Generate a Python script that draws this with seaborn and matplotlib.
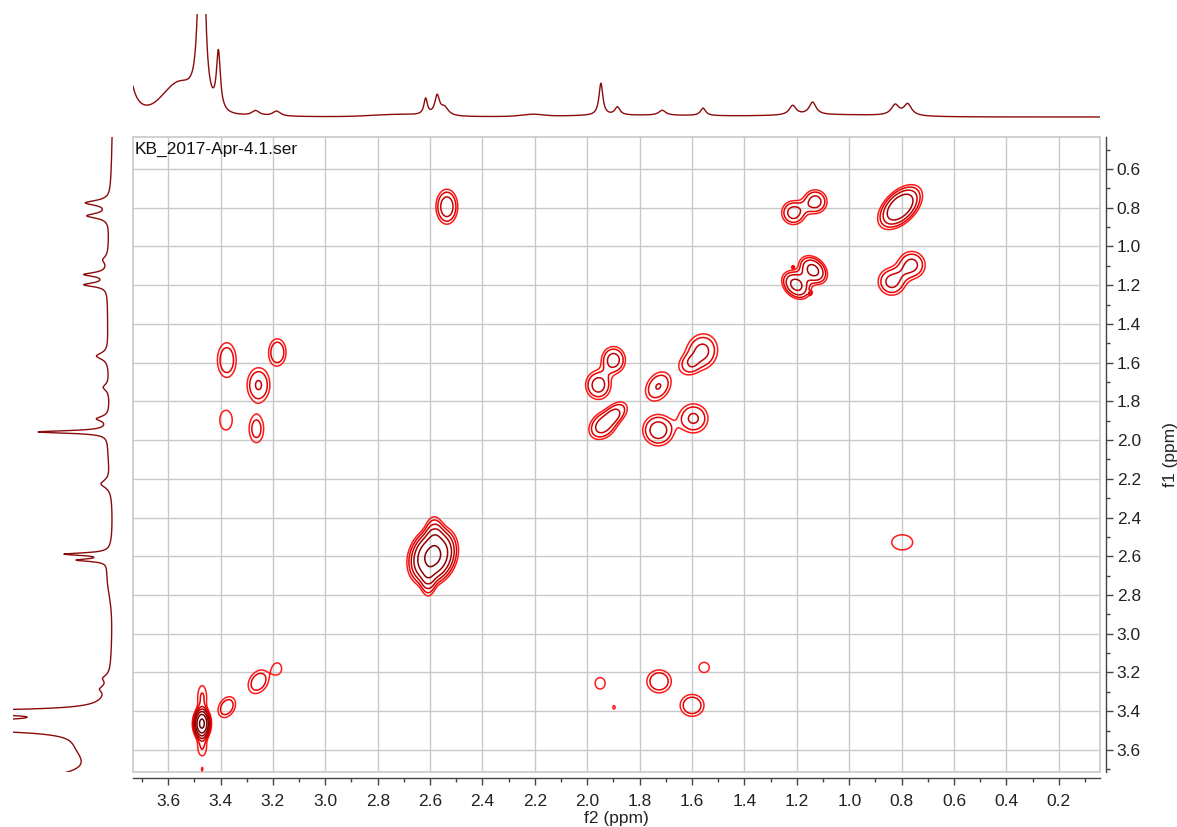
import numpy as np
import matplotlib
matplotlib.use("Agg")
import matplotlib.pyplot as plt
from matplotlib.patches import Rectangle
from matplotlib.ticker import MultipleLocator, FormatStrFormatter
import seaborn as sns

# ---------------------------------------------------------------------------
# COSY cross peaks: f2 shift, f1 shift, amplitude, widths (ppm), correlation
# ---------------------------------------------------------------------------
xp_f2 = [2.536, 1.213, 1.130, 0.806, 1.203, 1.138, 1.215, 1.150, 0.838, 0.762,
         3.376, 3.183, 3.255, 3.379, 3.263,
         1.900, 1.958, 1.729, 1.563, 1.620, 1.939, 1.882, 1.729, 1.595,
         2.590, 2.585, 2.607, 0.798,
         3.471, 3.470, 3.470, 3.470, 3.376, 3.255, 3.183,
         1.951, 1.898, 1.726, 1.600, 1.554]
xp_f1 = [0.795, 0.826, 0.769, 0.797, 1.199, 1.122, 1.106, 1.240, 1.182, 1.096,
         1.587, 1.547, 1.716, 1.897, 1.942,
         1.587, 1.716, 1.723, 1.544, 1.620, 1.923, 1.850, 1.949, 1.888,
         2.600, 2.450, 2.750, 2.528,
         3.465, 3.330, 3.585, 3.700, 3.379, 3.248, 3.180,
         3.256, 3.380, 3.246, 3.370, 3.174]
xp_amp = [2.6, 2.4, 2.4, 4.2, 3.3, 3.3, 1.08, 1.08, 2.3, 2.3,
          1.9, 2.0, 2.15, 1.3, 1.7,
          2.4, 2.4, 2.12, 2.3, 1.25, 2.5, 1.7, 2.5, 2.2,
          7.0, 1.3, 1.3, 1.3,
          9.5, 1.5, 1.45, 1.1, 1.9, 1.9, 1.3,
          1.25, 1.1, 2.0, 2.0, 1.3]
xp_s2 = [0.030, 0.0336, 0.0336, 0.0527, 0.0363, 0.0363, 0.004, 0.006, 0.0393, 0.0393,
         0.030, 0.027, 0.034, 0.028, 0.025,
         0.034, 0.036, 0.0385, 0.046, 0.030, 0.040, 0.0305, 0.0436, 0.043,
         0.054, 0.023, 0.019, 0.047,
         0.019, 0.017, 0.017, 0.004, 0.028, 0.033, 0.019,
         0.024, 0.0076, 0.038, 0.037, 0.023]
xp_s1 = [0.065, 0.0455, 0.0455, 0.0713, 0.049, 0.049, 0.006, 0.008, 0.053, 0.053,
         0.075, 0.057, 0.070, 0.060, 0.064,
         0.052, 0.055, 0.059, 0.070, 0.041, 0.054, 0.041, 0.059, 0.058,
         0.088, 0.052, 0.052, 0.046,
         0.045, 0.062, 0.047, 0.015, 0.045, 0.051, 0.034,
         0.037, 0.0155, 0.048, 0.046, 0.031]
xp_rho = [0.0, 0.0, 0.0, 0.50, -0.3, -0.3, 0.0, 0.0, 0.0, 0.0,
          0.0, 0.0, 0.0, 0.0, 0.0,
          0.0, 0.0, 0.3, 0.1, 0.0, 0.3, 0.3, 0.0, 0.0,
          0.2, 0.0, 0.0, 0.0,
          0.0, 0.0, 0.0, 0.0, 0.3, 0.3, 0.0,
          0.0, 0.0, 0.0, 0.0, 0.0]

contour_levels = [1.0, 1.45, 2.1, 3.0, 4.4, 6.4, 9.0]
contour_colors = ["#ff1a1a", "#e60000", "#c40000", "#a80000", "#900000",
                  "#7c0000", "#6a0000"]

# ---------------------------------------------------------------------------
# 1D projections: sharp lines (ppm, height, half width) and broad humps
# ---------------------------------------------------------------------------
top_ppm = [3.780, 3.472, 3.408, 3.266, 3.186, 2.617, 2.573, 2.545, 1.948,
           1.885, 1.714, 1.558, 1.216, 1.140, 0.825, 0.777]
top_height = [257, 400, 58, 5, 5, 16, 19, 8, 32, 8, 5, 7.5, 9.5, 12.5, 10.5, 11.5]
top_width = [0.0167, 0.009, 0.009, 0.018, 0.018, 0.008, 0.011, 0.018, 0.009,
             0.012, 0.016, 0.012, 0.016, 0.016, 0.018, 0.018]
top_hump_ppm = [3.56, 2.72, 2.21, 1.80, 1.05]
top_hump_height = [30, 2.3, 2.0, 1.6, 2.0]
top_hump_width = [0.06, 0.10, 0.04, 0.30, 0.20]

left_ppm = [0.775, 0.842, 1.069, 1.145, 1.198, 1.566, 1.728, 1.890, 1.958,
            2.226, 2.589, 2.620, 3.230, 3.285, 3.405, 3.475, 3.800]
left_height = [24, 22, 5, 23, 23, 12, 6, 12, 70, 10, 44, 30, 6, 7, 250, 700, 225]
left_width = [0.015, 0.015, 0.02, 0.012, 0.012, 0.02, 0.02, 0.015, 0.008,
              0.025, 0.008, 0.008, 0.02, 0.02, 0.010, 0.012, 0.040]
left_hump_ppm = [1.30, 2.05, 2.70, 3.58]
left_hump_height = [5, 3, 5, 22]
left_hump_width = [0.45, 0.12, 0.10, 0.07]

file_label = "KB_2017-Apr-4.1.ser"
f2_range = (3.734, 0.043)
f1_range = (3.714, 0.435)


def spectrum(ppm, centers, heights, widths, hump_c, hump_h, hump_w):
    y = np.zeros_like(ppm)
    for c, h, w in zip(centers, heights, widths):
        y += h / (1.0 + ((ppm - c) / w) ** 2)
    for c, h, w in zip(hump_c, hump_h, hump_w):
        y += h * np.exp(-0.5 * ((ppm - c) / w) ** 2)
    return y


sns.set_theme(style="white")
plt.rcParams["font.family"] = ["Liberation Sans", "DejaVu Sans"]

W, H = 1177, 827
fig = plt.figure(figsize=(W / 100, H / 100), dpi=100)


def px_axes(left, top, right, bottom):
    return fig.add_axes([left / W, 1 - bottom / H, (right - left) / W,
                         (bottom - top) / H])


ax = px_axes(133, 137, 1100, 772)
ax_top = px_axes(133, 14, 1100, 125)
ax_left = px_axes(13, 137, 128, 772)

# --- 2D contour map (slightly flat-topped peak shape) -------------------------
f2g = np.linspace(0.03, 3.75, 1700)
f1g = np.linspace(0.42, 3.73, 1500)
X, Y = np.meshgrid(f2g, f1g)
Z = np.zeros_like(X)
for c2, c1, a, s2, s1, r in zip(xp_f2, xp_f1, xp_amp, xp_s2, xp_s1, xp_rho):
    u = (X - c2) / s2
    v = (Y - c1) / s1
    q = (u * u - 2 * r * u * v + v * v) / (1 - r * r)
    Z += a * np.exp(-(0.5 * q) ** 1.3)

ax.contour(X, Y, Z, levels=contour_levels, colors=contour_colors,
           linewidths=1.1, zorder=3)

ax.set_xlim(*f2_range)
ax.set_ylim(*f1_range)
grid_col = "#c8c8c8"
ax.set_axisbelow(True)
ax.grid(True, which="major", color=grid_col, lw=1.0)
ax.xaxis.set_major_locator(MultipleLocator(0.2))
ax.xaxis.set_minor_locator(MultipleLocator(0.1))
ax.yaxis.set_major_locator(MultipleLocator(0.2))
ax.yaxis.set_minor_locator(MultipleLocator(0.1))
ax.xaxis.set_major_formatter(FormatStrFormatter("%.1f"))
ax.yaxis.set_major_formatter(FormatStrFormatter("%.1f"))
ax.yaxis.tick_right()
ax.yaxis.set_label_position("right")
for side in ("top", "left"):
    ax.spines[side].set_visible(False)
for side in ("bottom", "right"):
    ax.spines[side].set_position(("outward", 4))
    ax.spines[side].set_color("#444444")
    ax.spines[side].set_linewidth(1.0)
ax.add_patch(Rectangle((0, 0), 1, 1, transform=ax.transAxes, fill=False,
                       ec=grid_col, lw=1.2, clip_on=False, zorder=1))
ax.tick_params(axis="both", which="major", direction="out", length=5,
               width=1, color="#444444", labelsize=12.5, labelcolor="#222222",
               bottom=True, right=True, left=False, top=False)
ax.tick_params(axis="x", which="major", pad=7)
ax.tick_params(axis="y", which="major", pad=3)
ax.tick_params(axis="both", which="minor", direction="out", length=3,
               width=1, color="#444444", bottom=True, right=True,
               left=False, top=False)
ax.set_xlabel("f2 (ppm)", fontsize=12.5, color="#222222", labelpad=1)
ax.set_ylabel("f1 (ppm)", fontsize=12.5, color="#222222", labelpad=16)
ax.text(0.002, 0.992, file_label, transform=ax.transAxes, ha="left", va="top",
        fontsize=12.5, color="#111111", zorder=4)

# --- projections ---------------------------------------------------------------
trace_col = "#8b0a0a"
ppm_top = np.linspace(f2_range[0], f2_range[1], 3000)
int_top = spectrum(ppm_top, top_ppm, top_height, top_width,
                   top_hump_ppm, top_hump_height, top_hump_width)
sns.lineplot(x=ppm_top, y=int_top, ax=ax_top, color=trace_col, lw=1.0,
             sort=False, estimator=None)
ax_top.set_xlim(*f2_range)
ax_top.set_ylim(-8, 103)

ppm_left = np.linspace(0.43, 3.72, 3000)
int_left = spectrum(ppm_left, left_ppm, left_height, left_width,
                    left_hump_ppm, left_hump_height, left_hump_width)
sns.lineplot(x=int_left, y=ppm_left, ax=ax_left, color=trace_col, lw=1.0,
             sort=False, estimator=None, orient="y")
ax_left.set_ylim(*f1_range)
ax_left.set_xlim(100, -15)

for a in (ax_top, ax_left):
    a.set_axis_off()

fig.savefig("out.png", dpi=100)
